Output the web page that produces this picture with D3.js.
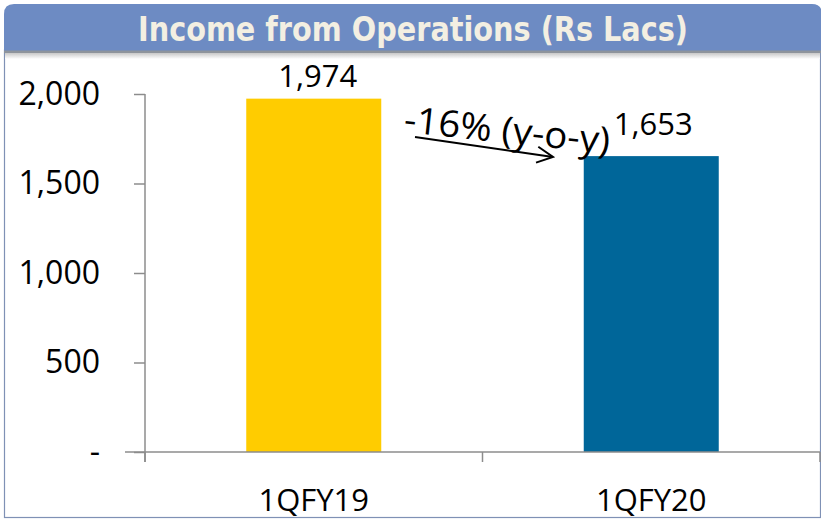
<!DOCTYPE html>
<html>
<head>
<meta charset="utf-8">
<script src="https://cdn.jsdelivr.net/npm/d3@7"></script>
<style>
  body { margin: 0; background: #fff; }
  svg { display: block; }
</style>
</head>
<body>
<div id="chart"></div>
<script>
const titleText = "Income from Operations (Rs Lacs)";
const categories = ["1QFY19", "1QFY20"];
const values = [1974, 1653];
const barColors = ["#ffcc00", "#006699"];
const yTicks = [0, 500, 1000, 1500, 2000];
const changeLabel = "-16% (y-o-y)";

const W = 821, H = 520;
const svg = d3.select("#chart").append("svg")
    .attr("width", W)
    .attr("height", H);

const defs = svg.append("defs");
const shadow = defs.append("linearGradient")
    .attr("id", "shadow")
    .attr("x1", "0%").attr("y1", "0%")
    .attr("x2", "0%").attr("y2", "100%");
shadow.append("stop").attr("offset", "0%").attr("stop-color", "#c8c8c8");
shadow.append("stop").attr("offset", "100%").attr("stop-color", "#ffffff");

defs.append("marker")
    .attr("id", "arrow")
    .attr("viewBox", "0 0 20 20")
    .attr("refX", 18).attr("refY", 10)
    .attr("markerWidth", 20).attr("markerHeight", 20)
    .attr("markerUnits", "userSpaceOnUse")
    .attr("orient", "auto")
    .append("path")
    .attr("d", "M2,2 L18,10 L2,18")
    .attr("fill", "none")
    .attr("stroke", "#000")
    .attr("stroke-width", 2);

// frame of the slide box
svg.append("rect")
    .attr("x", 4.5).attr("y", 50)
    .attr("width", 816).attr("height", 467.5)
    .attr("fill", "#fff")
    .attr("stroke", "#7f91b5")
    .attr("stroke-width", 1.2);

svg.append("rect")
    .attr("x", 5).attr("y", 53)
    .attr("width", 815).attr("height", 6)
    .attr("fill", "url(#shadow)");

// title bar with rounded top corners
const r = 10, bx0 = 4, bx1 = 822, by0 = 4, by1 = 51;
svg.append("path")
    .attr("d", `M${bx0},${by1} L${bx0},${by0 + r} Q${bx0},${by0} ${bx0 + r},${by0} L${bx1 - r},${by0} Q${bx1},${by0} ${bx1},${by0 + r} L${bx1},${by1} Z`)
    .attr("fill", "#6d8bc3");

svg.append("rect")
    .attr("x", 4).attr("y", 50.5)
    .attr("width", 818).attr("height", 2.5)
    .attr("fill", "#8e949c");

svg.append("text")
    .attr("x", 138).attr("y", 41)
    .attr("textLength", 550)
    .attr("lengthAdjust", "spacingAndGlyphs")
    .style("font-family", "'DejaVu Sans', sans-serif")
    .style("font-weight", "bold")
    .style("font-size", "33px")
    .attr("fill", "#f3efe2")
    .text(titleText);

// scales
const x = d3.scaleBand()
    .domain(categories)
    .range([145, 820])
    .paddingInner(0.6)
    .paddingOuter(0.3);

const y = d3.scaleLinear()
    .domain([0, 2000])
    .range([452, 94]);

const font = "'Open Sans', 'Noto Sans', sans-serif";

// bars
svg.selectAll("rect.bar")
    .data(values)
    .enter().append("rect")
    .attr("class", "bar")
    .attr("x", (d, i) => x(categories[i]))
    .attr("y", d => y(d))
    .attr("width", x.bandwidth())
    .attr("height", d => y(0) - y(d))
    .attr("fill", (d, i) => barColors[i]);

// y axis
const yAxis = d3.axisLeft(y)
    .tickValues(yTicks)
    .tickSize(11)
    .tickPadding(34)
    .tickFormat(d => d === 0 ? "-" : d3.format(",")(d));

const gy = svg.append("g")
    .attr("transform", "translate(145,0)")
    .call(yAxis);
gy.select(".domain").remove();
gy.append("line")
    .attr("x1", 0).attr("x2", 0)
    .attr("y1", y(2000)).attr("y2", 462)
    .attr("stroke", "#8c8c8c").attr("stroke-width", 1.5);
gy.selectAll(".tick line").attr("stroke", "#8c8c8c").attr("stroke-width", 1.5);
gy.selectAll(".tick text")
    .style("font-family", font)
    .style("font-size", "32px")
    .attr("fill", "#000");

// x axis
const gx = svg.append("g")
    .attr("transform", `translate(0,${y(0)})`);
gx.append("line")
    .attr("x1", 125).attr("x2", 820)
    .attr("y1", 0).attr("y2", 0)
    .attr("stroke", "#8c8c8c").attr("stroke-width", 1.5);
const bounds = [145, 145 + x.step(), 820];
gx.selectAll("line.cat")
    .data(bounds)
    .enter().append("line")
    .attr("class", "cat")
    .attr("x1", d => d).attr("x2", d => d)
    .attr("y1", 0).attr("y2", 10)
    .attr("stroke", "#8c8c8c").attr("stroke-width", 1.5);
gx.selectAll("text")
    .data(categories)
    .enter().append("text")
    .attr("x", d => x(d) + x.bandwidth() / 2)
    .attr("y", 59)
    .attr("text-anchor", "middle")
    .style("font-family", font)
    .style("font-size", "31px")
    .attr("fill", "#000")
    .text(d => d);

// value labels (second one nudged up as in the original)
const labelNudge = [12, 21];
svg.selectAll("text.val")
    .data(values)
    .enter().append("text")
    .attr("class", "val")
    .attr("x", (d, i) => x(categories[i]) + x.bandwidth() / 2 + (i === 0 ? 4 : 2))
    .attr("y", (d, i) => y(d) - labelNudge[i])
    .attr("text-anchor", "middle")
    .style("font-family", font)
    .style("font-size", "31px")
    .attr("fill", "#000")
    .text(d => d3.format(",")(d));

// change annotation
svg.append("line")
    .attr("x1", 415).attr("y1", 137)
    .attr("x2", 553).attr("y2", 157)
    .attr("stroke", "#000")
    .attr("stroke-width", 2)
    .attr("marker-end", "url(#arrow)");

svg.append("text")
    .attr("x", 403).attr("y", 132)
    .attr("transform", "rotate(6,403,132)")
    .attr("textLength", 207)
    .attr("lengthAdjust", "spacingAndGlyphs")
    .style("font-family", font)
    .style("font-size", "37px")
    .attr("fill", "#000")
    .text(changeLabel);
</script>
</body>
</html>
